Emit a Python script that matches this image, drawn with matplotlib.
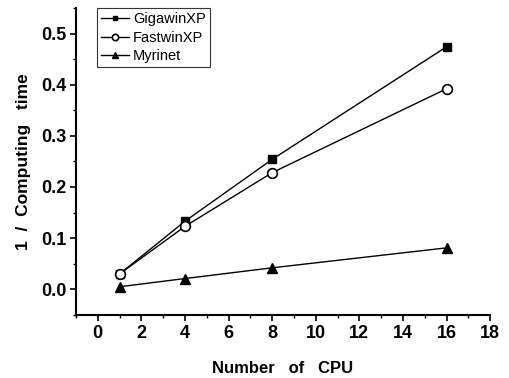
import matplotlib
matplotlib.use("Agg")
import matplotlib.pyplot as plt
from matplotlib.ticker import MultipleLocator

plt.rcParams['font.family'] = ['Liberation Sans', 'DejaVu Sans']
plt.rcParams['font.weight'] = 'bold'

cpus = [1, 4, 8, 16]
gigawin = [0.030, 0.133, 0.254, 0.474]
fastwin = [0.030, 0.123, 0.228, 0.392]
myrinet = [0.005, 0.021, 0.042, 0.081]
xticks = [0, 2, 4, 6, 8, 10, 12, 14, 16, 18]
yticks = [0.0, 0.1, 0.2, 0.3, 0.4, 0.5]

fig = plt.figure(figsize=(5.10, 3.78), dpi=100)
ax = fig.add_axes([0.149, 0.167, 0.812, 0.812])

ax.plot(cpus, gigawin, '-s', color='black', lw=1.0, ms=5.5, mfc='black', label='GigawinXP')
ax.plot(cpus, fastwin, '-o', color='black', lw=1.0, ms=7, mfc='white', mew=1.2, label='FastwinXP')
ax.plot(cpus, myrinet, '-^', color='black', lw=1.0, ms=7.5, mfc='black', label='Myrinet')

ax.set_xlim(-1, 18)
ax.set_ylim(-0.05, 0.55)
ax.set_xticks(xticks)
ax.set_xticklabels([str(v) for v in xticks], fontweight='bold')
ax.set_yticks(yticks)
ax.set_yticklabels([f'{v:.1f}' for v in yticks], fontweight='bold')
ax.xaxis.set_minor_locator(MultipleLocator(1))
ax.yaxis.set_minor_locator(MultipleLocator(0.05))

for s in ['top', 'right']:
    ax.spines[s].set_visible(False)
for s in ['left', 'bottom']:
    ax.spines[s].set_linewidth(1.5)

ax.tick_params(which='major', direction='out', length=4, width=1.2, labelsize=13, pad=3)
ax.tick_params(which='minor', direction='out', length=2.5, width=1.0)

ax.set_xlabel('Number   of   CPU', fontsize=12, fontweight='bold', labelpad=14)
ax.set_ylabel('1  /  Computing   time', fontsize=12.5, fontweight='bold', labelpad=7)

leg = ax.legend(loc='upper left', bbox_to_anchor=(0.05, 1.0), frameon=True,
                prop={'size': 10.5, 'weight': 'normal'},
                fancybox=False, edgecolor='black', handlelength=1.9, handletextpad=0.3,
                borderpad=0.3, labelspacing=0.3, borderaxespad=0.0, markerscale=0.65)
leg.get_frame().set_linewidth(0.8)

fig.savefig('out.png', dpi=100)
